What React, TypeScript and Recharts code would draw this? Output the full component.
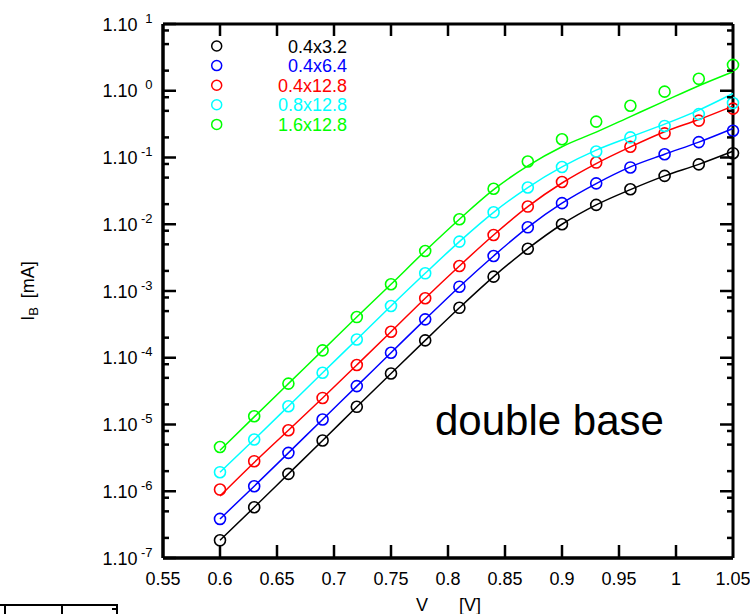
import React from 'react';
import { ScatterChart, Scatter, XAxis, YAxis } from 'recharts';

// ---------- data ----------
const vPoints = [0.6, 0.63, 0.66, 0.69, 0.72, 0.75, 0.78, 0.81, 0.84, 0.87, 0.9, 0.93, 0.96, 0.99, 1.02, 1.05];

const measBlack = [1.84e-7, 5.75e-7, 1.82e-6, 5.75e-6, 1.84e-5, 5.8e-5, 1.82e-4, 5.6e-4, 1.64e-3, 4.3e-3, 1.0e-2, 1.95e-2, 3.35e-2, 5.3e-2, 7.9e-2, 0.116];
const measBlue = [3.85e-7, 1.19e-6, 3.76e-6, 1.19e-5, 3.76e-5, 1.19e-4, 3.76e-4, 1.16e-3, 3.35e-3, 9.0e-3, 2.07e-2, 4.1e-2, 7.1e-2, 0.112, 0.17, 0.252];
const measRed = [1.06e-6, 2.82e-6, 8.2e-6, 2.5e-5, 7.8e-5, 2.45e-4, 7.8e-4, 2.37e-3, 6.9e-3, 1.84e-2, 4.3e-2, 8.4e-2, 0.145, 0.23, 0.357, 0.54];
const measCyan = [1.93e-6, 5.96e-6, 1.88e-5, 5.96e-5, 1.88e-4, 5.96e-4, 1.84e-3, 5.5e-3, 1.51e-2, 3.55e-2, 7.2e-2, 0.123, 0.2, 0.297, 0.447, 0.656];
const measGreen = [4.6e-6, 1.33e-5, 4.1e-5, 1.29e-4, 4.07e-4, 1.26e-3, 3.98e-3, 1.19e-2, 3.4e-2, 8.7e-2, 0.188, 0.345, 0.595, 0.97, 1.51, 2.44];

const fitBlack = [1.84e-7, 5.75e-7, 1.82e-6, 5.75e-6, 1.84e-5, 5.8e-5, 1.82e-4, 5.6e-4, 1.64e-3, 4.3e-3, 1.0e-2, 1.95e-2, 3.3e-2, 5.3e-2, 7.9e-2, 0.124];
const fitBlue = [3.85e-7, 1.19e-6, 3.76e-6, 1.19e-5, 3.76e-5, 1.19e-4, 3.76e-4, 1.16e-3, 3.35e-3, 9.0e-3, 2.07e-2, 4.07e-2, 7.24e-2, 0.112, 0.17, 0.272];
const fitRed = [0.85e-6, 2.7e-6, 8.2e-6, 2.5e-5, 7.8e-5, 2.45e-4, 7.8e-4, 2.37e-3, 6.9e-3, 1.84e-2, 4.15e-2, 8.1e-2, 0.144, 0.243, 0.37, 0.59];
const fitCyan = [1.93e-6, 5.96e-6, 1.88e-5, 5.96e-5, 1.88e-4, 5.96e-4, 1.84e-3, 5.5e-3, 1.51e-2, 3.55e-2, 7.22e-2, 0.129, 0.204, 0.316, 0.513, 0.91];
const fitGreen = [4.1e-6, 1.3e-5, 4.1e-5, 1.29e-4, 4.07e-4, 1.26e-3, 3.98e-3, 1.19e-2, 3.3e-2, 7.5e-2, 0.145, 0.24, 0.41, 0.7, 1.19, 1.93];

const seriesNames = ['0.4x3.2', '0.4x6.4', '0.4x12.8', '0.8x12.8', '1.6x12.8'];
const seriesColors = ['#000000', '#0000ff', '#ff0000', '#00ffff', '#00ff00'];
const measured = [measBlack, measBlue, measRed, measCyan, measGreen];
const fitted = [fitBlack, fitBlue, fitRed, fitCyan, fitGreen];

const xTicks = [0.55, 0.6, 0.65, 0.7, 0.75, 0.8, 0.85, 0.9, 0.95, 1.0, 1.05];
const xTickLabels = ['0.55', '0.6', '0.65', '0.7', '0.75', '0.8', '0.85', '0.9', '0.95', '1', '1.05'];
const yDecadeExponents = [-7, -6, -5, -4, -3, -2, -1, 0, 1];
const yMinorMantissas = [2, 5, 8];

// ---------- layout ----------
const W = 750;
const H = 614;
const MARGIN = { top: 24, right: 17, bottom: 16, left: 63 };
const Y_AXIS_W = 100;
const X_AXIS_H = 40;
const PL = 163;
const PR = 733;
const PT = 24;
const PB = 558;
const FONT = '"Liberation Sans", Arial, sans-serif';
const TICK_FONT = 18;
const INK = '#000000';
const FRAME = '#000000';
const FRAME_W = 3;

const yTicks: number[] = [];
yDecadeExponents.forEach((e) => {
  yTicks.push(Math.pow(10, e));
  if (e < 1) yMinorMantissas.forEach((m) => yTicks.push(m * Math.pow(10, e)));
});

const toPts = (arr: number[]) => arr.map((i, k) => ({ v: vPoints[k], i }));

const renderYTick = (props: any) => {
  const { y, payload } = props;
  const val = payload.value;
  const lg = Math.log10(val);
  const e = Math.round(lg);
  const major = Math.abs(lg - e) < 1e-6;
  const len = major ? 13 : 6;
  return (
    <g>
      <line x1={PL} x2={PL + len} y1={y} y2={y} stroke={FRAME} strokeWidth={2.5} />
      <line x1={PR - len} x2={PR} y1={y} y2={y} stroke={FRAME} strokeWidth={2.5} />
      {major ? (
        <text x={PL - 25.5} y={y + 6.5} textAnchor="end" fontSize={TICK_FONT} fill={INK} fontFamily={FONT}>
          1.10
        </text>
      ) : null}
      {major ? (
        <text x={PL - 10.5} y={y - 1.5} textAnchor="end" fontSize={13} fill={INK} fontFamily={FONT}>
          {String(e)}
        </text>
      ) : null}
    </g>
  );
};

const renderXTick = (props: any) => {
  const { x, payload } = props;
  const val = payload.value;
  const idx = xTicks.findIndex((t) => Math.abs(t - val) < 1e-9);
  const inner = idx > 0 && idx < xTicks.length - 1;
  return (
    <g>
      {inner ? <line x1={x} x2={x} y1={PB} y2={PB - 13} stroke={FRAME} strokeWidth={2.5} /> : null}
      {inner ? <line x1={x} x2={x} y1={PT} y2={PT + 12} stroke={FRAME} strokeWidth={2.5} /> : null}
      <text x={x} y={PB + 27} textAnchor="middle" fontSize={TICK_FONT} fill={INK} fontFamily={FONT}>
        {idx >= 0 ? xTickLabels[idx] : ''}
      </text>
    </g>
  );
};

const hollow = (color: string) => (p: any) =>
  <circle cx={p.cx} cy={p.cy} r={5.5} fill="none" stroke={color} strokeWidth={1.6} />;

const noDot = () => <g />;

export default function App() {
  return (
    <div style={{ position: 'absolute', left: 0, top: 0, width: W, height: H, background: '#fff' }}>
      <ScatterChart width={W} height={H} margin={MARGIN}>
        <XAxis
          type="number"
          dataKey="v"
          domain={[0.55, 1.05]}
          ticks={xTicks}
          interval={0}
          height={X_AXIS_H}
          axisLine={{ stroke: FRAME, strokeWidth: FRAME_W }}
          tickLine={false}
          tick={renderXTick}
        />
        <YAxis
          type="number"
          dataKey="i"
          scale="log"
          domain={[1e-7, 10]}
          ticks={yTicks}
          interval={0}
          width={Y_AXIS_W}
          axisLine={{ stroke: FRAME, strokeWidth: FRAME_W }}
          tickLine={false}
          tick={renderYTick}
        />
        {seriesNames.map((name, k) => (
          <Scatter
            key={'fit' + name}
            name={name + ' fit'}
            data={toPts(fitted[k])}
            line={{ stroke: seriesColors[k], strokeWidth: 1.5 }}
            lineJointType="monotoneX"
            shape={noDot}
            legendType="none"
            isAnimationActive={false}
          />
        ))}
        {seriesNames.map((name, k) => (
          <Scatter
            key={'meas' + name}
            name={name}
            data={toPts(measured[k])}
            shape={hollow(seriesColors[k])}
            isAnimationActive={false}
          />
        ))}
        <g stroke={FRAME} strokeWidth={FRAME_W}>
          <line x1={PL} x2={PR} y1={PT} y2={PT} />
          <line x1={PR} x2={PR} y1={PT} y2={PB} />
          <line x1={PL} x2={PR} y1={PB} y2={PB} />
          <line x1={PL} x2={PL} y1={PT} y2={PB} />
        </g>
        <g>
          {seriesNames.map((name, k) => {
            const cy = 46 + k * 19.6;
            return (
              <g key={name}>
                <circle cx={216.7} cy={cy} r={5} fill="none" stroke={seriesColors[k]} strokeWidth={1.5} />
                <text x={347} y={cy + 6.5} textAnchor="end" fontSize={TICK_FONT} fill={seriesColors[k]} fontFamily={FONT}>
                  {name}
                </text>
              </g>
            );
          })}
        </g>
        <text x={435} y={435} fontSize={42} fill={INK} fontFamily={FONT}>
          double base
        </text>
        <text x={422} y={611} textAnchor="middle" fontSize={18} fill={INK} fontFamily={FONT}>
          V
        </text>
        <text x={470} y={611} textAnchor="middle" fontSize={18} fill={INK} fontFamily={FONT}>
          [V]
        </text>
        <text
          x={34}
          y={291}
          textAnchor="middle"
          fontSize={18}
          fill={INK}
          fontFamily={FONT}
          transform="rotate(-90, 34, 291)"
        >
          I<tspan dy={4} fontSize={13}>B</tspan>
          <tspan dy={-4} dx={9}>[mA]</tspan>
        </text>
        <g stroke={INK} strokeWidth={2}>
          <line x1={0} x2={118} y1={605} y2={605} />
          <line x1={5} x2={5} y1={605} y2={614} />
          <line x1={62} x2={62} y1={605} y2={614} />
          <line x1={117} x2={117} y1={605} y2={614} />
          <line x1={112} x2={117} y1={609} y2={609} />
        </g>
      </ScatterChart>
    </div>
  );
}
